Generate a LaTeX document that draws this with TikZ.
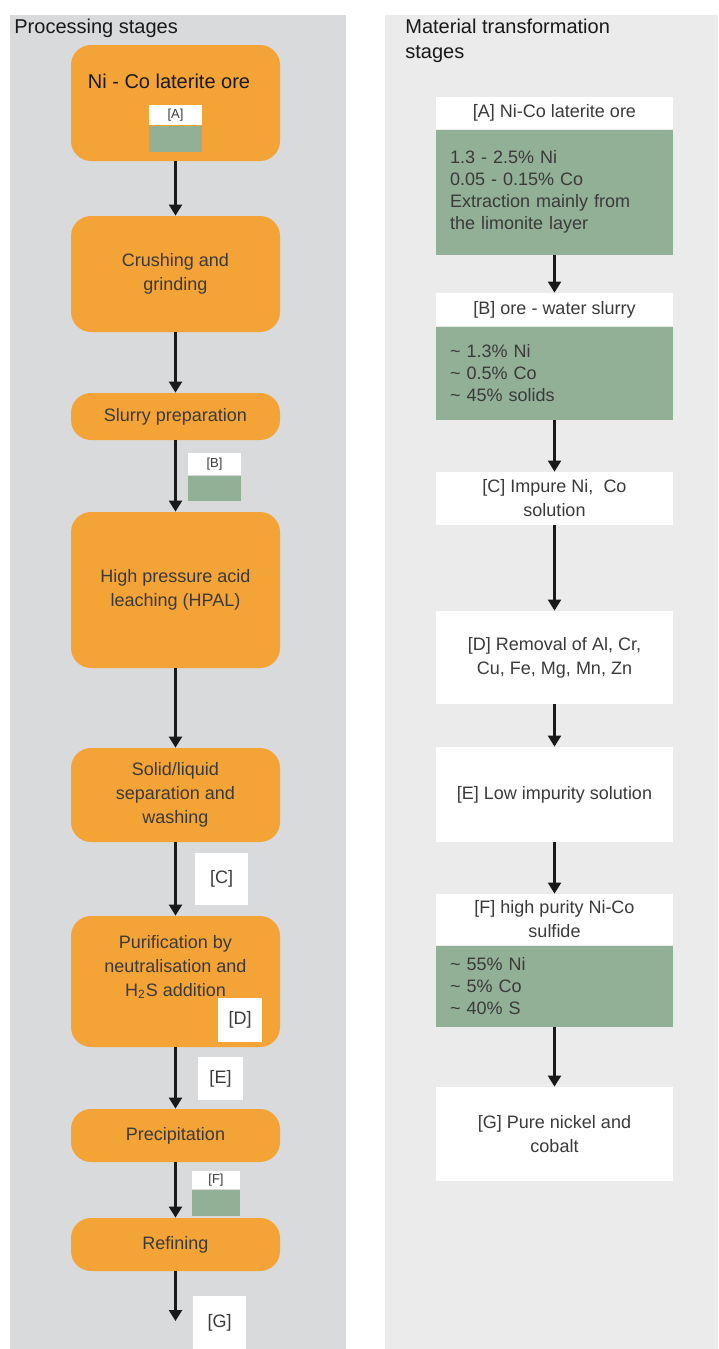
\documentclass[tikz,border=0pt]{standalone}
\usepackage{fontspec}
\setmainfont{Liberation Sans}
\usetikzlibrary{positioning,arrows.meta}

\definecolor{panelL}{HTML}{D9DADC}
\definecolor{panelR}{HTML}{EBEBEB}
\definecolor{oreorange}{HTML}{F4A337}
\definecolor{assaygreen}{HTML}{92B096}
\definecolor{inkgray}{HTML}{3A3A3A}

\begin{document}
\begin{tikzpicture}[x=0.5pt,y=-0.5pt,
  stage/.style={fill=oreorange, rounded corners=10pt, minimum width=104.5pt, inner sep=0pt,
    align=center, text=inkgray, font=\fontsize{9}{12}\selectfont},
  tag/.style={fill=white, text=inkgray, inner sep=0pt, minimum width=26.5pt, font=\fontsize{6.5}{8}\selectfont},
  assay/.style={fill=assaygreen, inner sep=0pt, minimum width=26.5pt},
  code/.style={fill=white, text=inkgray, inner sep=0pt, font=\fontsize{9}{11}\selectfont},
  head/.style={fill=white, text=inkgray, minimum width=118.5pt, inner sep=0pt,
    align=center, font=\fontsize{9}{12}\selectfont},
  body/.style={fill=assaygreen, text=inkgray, text width=104.5pt, inner xsep=7pt, inner ysep=0pt,
    align=left, font=\fontsize{9}{11}\selectfont},
  flow/.style={-{Triangle[length=5.5pt,width=6.5pt]}, line width=1.1pt, draw=black!90}]

  % page size and the two panels
  \useasboundingbox (0,0) rectangle (718,1349);
  \fill[panelL] (10,15) rectangle (346,1349);
  \fill[panelR] (385,15) rectangle (718,1349);

  \node[anchor=base west, inner sep=0pt, text=black!90, font=\fontsize{10}{12.5}\selectfont] (titleL) at (14,33) {Processing stages};
  \node[anchor=base west, inner sep=0pt, align=left, text=black!90, font=\fontsize{10}{12.5}\selectfont] (titleR) at (405,58)
    {Material transformation\\stages};

  % processing stages (left column)
  \node[stage, minimum height=58pt] (ore) at (175.5,103) {};
  \node[anchor=base, inner sep=0pt, text=black!90, font=\fontsize{10}{12}\selectfont] (oreTitle) at (169,88) {Ni - Co laterite ore};
  \node[stage, minimum height=58pt] (crush) at (175.5,274) {Crushing and\\grinding};
  \node[stage, minimum height=23.5pt] (slurry) at (175.5,416.5) {Slurry preparation};
  \node[stage, minimum height=78pt] (hpal) at (175.5,590) {High pressure acid\\leaching (HPAL)};
  \node[stage, minimum height=47pt] (sep) at (175.5,795) {Solid/liquid\\separation and\\washing};
  \node[stage, minimum height=65.5pt] (purif) at (175.5,981.5) {};
  \node[align=center, inner sep=0pt, text=inkgray, font=\fontsize{9}{11.8}\selectfont] (purifText) at (175.5,967)
    {Purification by\\neutralisation and\\H\textsubscript{2}S addition};
  \node[stage, minimum height=26.5pt] (precip) at (175.5,1135.5) {Precipitation};
  \node[stage, minimum height=26.5pt] (refin) at (175.5,1244.5) {Refining};
  \coordinate (gEnd) at (175.5,1321);

  % small material tags beside the flow
  \node[tag, minimum height=10pt] (tagA) at (175.5,115) {[A]};
  \node[assay, minimum height=13pt, below=0pt of tagA] (swatchA) {};
  \node[tag, minimum height=11pt] (tagB) at (214.5,464) {[B]};
  \node[assay, minimum height=12.5pt, below=0pt of tagB] (swatchB) {};
  \node[code, minimum width=26.5pt, minimum height=26pt] (codeC) at (221.5,879) {[C]};
  \node[code, minimum width=22pt, minimum height=22pt] (codeD) at (240,1020) {[D]};
  \node[code, minimum width=22.5pt, minimum height=21.5pt] (codeE) at (220.5,1078.5) {[E]};
  \node[tag, minimum width=24pt, minimum height=9pt] (tagF) at (216,1180) {[F]};
  \node[assay, minimum width=24pt, minimum height=13pt, below=0pt of tagF] (swatchF) {};
  \node[code, minimum width=26.5pt, minimum height=26.5pt] (codeG) at (219.5,1322.5) {[G]};

  \draw[flow] (ore.south) -- (crush.north);
  \draw[flow] (crush.south) -- (slurry.north);
  \draw[flow] (slurry.south) -- (hpal.north);
  \draw[flow] (hpal.south) -- (sep.north);
  \draw[flow] (sep.south) -- (purif.north);
  \draw[flow] (purif.south) -- (precip.north);
  \draw[flow] (precip.south) -- (refin.north);
  \draw[flow] (refin.south) -- (gEnd);

  % material transformation stages (right column)
  \node[head, minimum height=16pt] (headA) at (554.5,113) {[A] Ni-Co laterite ore};
  \node[body, minimum height=62.5pt, below=0pt of headA] (bodyA)
    {1.3 - 2.5\% Ni\\0.05 - 0.15\% Co\\Extraction mainly from\\the limonite layer};
  \node[head, minimum height=16.5pt] (headB) at (554.5,309.5) {[B] ore - water slurry};
  \node[body, minimum height=46.5pt, below=0pt of headB] (bodyB)
    {\textasciitilde\ 1.3\% Ni\\\textasciitilde\ 0.5\% Co\\\textasciitilde\ 45\% solids};
  \node[head, minimum height=26.5pt] (headC) at (554.5,498.5) {[C] Impure Ni,\ \ Co\\solution};
  \node[head, minimum height=46.5pt] (headD) at (554.5,657.5) {[D] Removal of Al, Cr,\\Cu, Fe, Mg, Mn, Zn};
  \node[head, minimum height=47.5pt] (headE) at (554.5,794.5) {[E] Low impurity solution};
  \node[head, minimum height=25.5pt] (headF) at (554.5,919.5) {[F] high purity Ni-Co\\sulfide};
  \node[body, minimum height=40.5pt, below=0pt of headF] (bodyF)
    {\textasciitilde\ 55\% Ni\\\textasciitilde\ 5\% Co\\\textasciitilde\ 40\% S};
  \node[head, minimum height=47pt] (headG) at (554.5,1134) {[G] Pure nickel and\\cobalt};

  \draw[flow] (bodyA.south) -- (headB.north);
  \draw[flow] (bodyB.south) -- (headC.north);
  \draw[flow] (headC.south) -- (headD.north);
  \draw[flow] (headD.south) -- (headE.north);
  \draw[flow] (headE.south) -- (headF.north);
  \draw[flow] (bodyF.south) -- (headG.north);
\end{tikzpicture}
\end{document}
